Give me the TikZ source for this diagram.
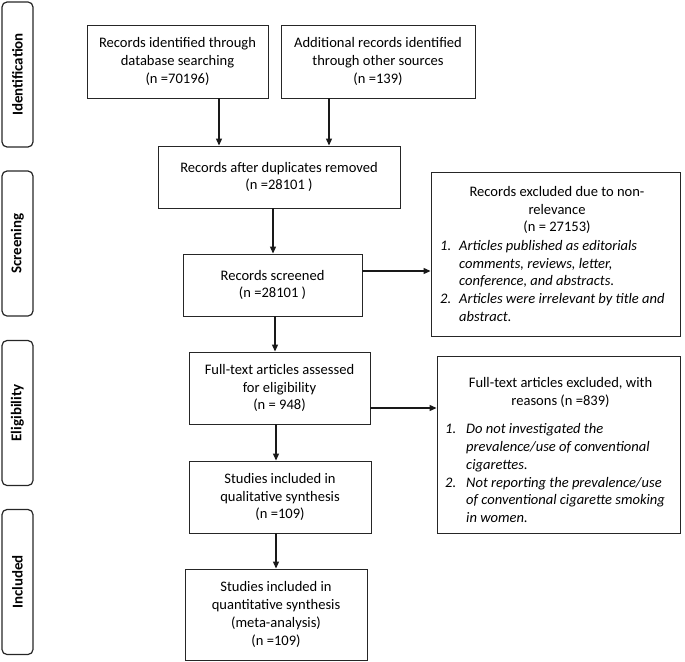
\documentclass[tikz,border=0pt]{standalone}
\usepackage{fontspec}
\setmainfont{Carlito}
\usetikzlibrary{arrows.meta}
\begin{document}
\begin{tikzpicture}[x=1bp,y=-1bp,
  box/.style={draw=black!85,line width=0.9bp,align=center,inner sep=2bp,
    font=\fontsize{14.6}{17.8}\selectfont},
  tab/.style={draw=black!85,line width=1.2bp,rounded corners=5bp,rotate=90,
    minimum width=145bp,minimum height=31bp,inner sep=0,
    font=\fontsize{15}{18}\selectfont\bfseries},
  arr/.style={line width=1.2bp,draw=black!90,-{Triangle[length=7bp,width=6bp]}},
  txt/.style={inner sep=0,font=\fontsize{14.6}{17.8}\selectfont}]
\useasboundingbox (0,0) rectangle (685,662);

% stage tabs
\node[tab] (tid) at (17.5,74.5) {Identification};
\node[tab] (tsc) at (17.5,243.5) {Screening};
\node[tab] (tel) at (17.5,413) {Eligibility};
\node[tab] (tin) at (17.5,582) {Included};

% main boxes
\node[box,minimum width=181bp,minimum height=73bp] (db) at (177.5,61.5)
  {Records identified through\\database searching\\(n =70196)};
\node[box,minimum width=194bp,minimum height=73bp] (oth) at (378,61.5)
  {Additional records identified\\through other sources\\(n =139)};
\node[box,minimum width=242bp,minimum height=62bp] (dup) at (279,177)
  {Records after duplicates removed\\(n =28101 )};
\node[box,minimum width=179bp,minimum height=62bp] (scr) at (272.5,285)
  {Records screened\\(n =28101 )};
\node[box,minimum width=181bp,minimum height=72bp] (full) at (279.5,388)
  {Full-text articles assessed\\for eligibility\\(n = 948)};
\node[box,minimum width=182bp,minimum height=72bp] (qual) at (280,497)
  {Studies included in\\qualitative synthesis\\(n =109)};
\node[box,minimum width=182bp,minimum height=91bp] (quant) at (276,614.5)
  {Studies included in\\quantitative synthesis\\(meta-analysis)\\(n =109)};

% exclusion boxes
\node[box,minimum width=249bp,minimum height=164bp] (ex1) at (555.5,254) {};
\node[txt,anchor=base] (ex1t) at (557,196.5)
  {\begin{tabular}[t]{@{}c@{}}Records excluded due to non-\\relevance\\(n = 27153)\end{tabular}};
\node[txt,anchor=base west] (ex1l) at (440,250.5)
  {\itshape\begin{tabular}[t]{@{}p{19bp}@{}l@{}}1. & Articles published as editorials\\
   & comments, reviews, letter,\\ & conference, and abstracts.\\
   2. & Articles were irrelevant by title and\\ & abstract.\end{tabular}};

\node[box,minimum width=243bp,minimum height=177bp] (ex2) at (558.5,444.5) {};
\node[txt,anchor=base] (ex2t) at (560.5,387.5)
  {\begin{tabular}[t]{@{}c@{}}Full-text articles excluded, with\\reasons (n =839)\end{tabular}};
\node[txt,anchor=base west] (ex2l) at (445,433.8)
  {\itshape\begin{tabular}[t]{@{}p{21bp}@{}l@{}}1. & Do not investigated the\\
   & prevalence/use of conventional\\ & cigarettes.\\
   2. & Not reporting the prevalence/use\\ & of conventional cigarette smoking\\
   & in women.\end{tabular}};

% connector guide coordinates
\coordinate (c1) at (219,0);
\coordinate (c2) at (329,0);
\coordinate (c3) at (273,0);
\coordinate (c4) at (275,0);
\coordinate (c5) at (276,0);
\coordinate (h1) at (0,271);
\coordinate (h2) at (0,408);

% connectors
\draw[arr] (db.south -| c1) -- (dup.north -| c1);
\draw[arr] (oth.south -| c2) -- (dup.north -| c2);
\draw[arr] (dup.south -| c3) -- (scr.north -| c3);
\draw[arr] (scr.east |- h1) -- (ex1.west |- h1);
\draw[arr] (scr.south -| c4) -- (full.north -| c4);
\draw[arr] (full.east |- h2) -- (ex2.west |- h2);
\draw[arr] (full.south -| c5) -- (qual.north -| c5);
\draw[arr] (qual.south -| c5) -- (quant.north -| c5);
\end{tikzpicture}
\end{document}
